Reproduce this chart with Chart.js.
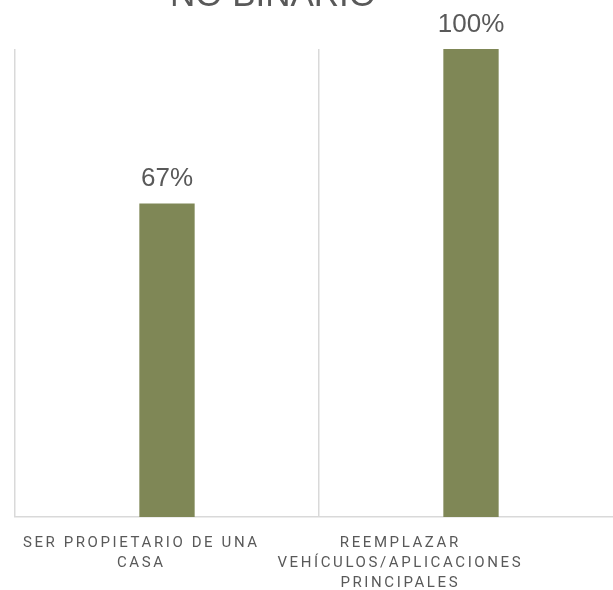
<!DOCTYPE html>
<html>
<head>
<meta charset="utf-8">
<script src="https://cdn.jsdelivr.net/npm/chart.js@4"></script>
<style>
  html, body { margin: 0; padding: 0; background: #fff; overflow: hidden; }
  #wrap { position: absolute; left: 0; top: 0; width: 625px; height: 590px; }
</style>
</head>
<body>
<div id="wrap"><canvas id="chart"></canvas></div>
<script>
// chart data
const categories = [
    ['SER PROPIETARIO DE UNA', 'CASA'],
    ['REEMPLAZAR', 'VEHÍCULOS/APLICACIONES', 'PRINCIPALES']
];
const values = [0.67, 1.0];
const valueLabels = ['67%', '100%'];
const chartTitle = 'NO BINARIO';

const TEXT = '#595959';
const BAR = '#7f8756';
const GRID = '#d9d9d9';

// labels sit a bit left of the bars in the original
const labelShift = [-27, -72];

const extrasPlugin = {
    id: 'extras',
    afterDatasetsDraw(chart) {
        const ctx = chart.ctx;
        const meta = chart.getDatasetMeta(0);
        ctx.save();
        ctx.fillStyle = TEXT;
        ctx.textAlign = 'center';
        ctx.textBaseline = 'alphabetic';
        ctx.font = '26px "Liberation Sans", Arial, sans-serif';
        meta.data.forEach((bar, i) => {
            ctx.fillText(valueLabels[i], bar.x, bar.y - 17);
        });
        ctx.restore();
    },
    afterDraw(chart) {
        const ctx = chart.ctx;
        const xScale = chart.scales.x;
        ctx.save();
        ctx.fillStyle = TEXT;
        ctx.textAlign = 'center';
        ctx.textBaseline = 'alphabetic';

        // title, mostly above the visible area
        ctx.font = '35px "Liberation Sans", Arial, sans-serif';
        ctx.fillText(chartTitle, 273, 6);

        // category labels with wide letter spacing
        ctx.font = '15px Roboto, "Liberation Sans", sans-serif';
        ctx.letterSpacing = '2.6px';
        categories.forEach((lines, i) => {
            const cx = xScale.getPixelForValue(i) + labelShift[i];
            lines.forEach((line, j) => {
                // trailing spacing offsets the centre, so nudge by half of it
                ctx.fillText(line, cx + 1.3, chart.chartArea.bottom + 30 + j * 20);
            });
        });
        ctx.restore();
    }
};

new Chart(document.getElementById('chart').getContext('2d'), {
    type: 'bar',
    data: {
        labels: categories.map(c => c.join(' ')),
        datasets: [{
            data: values,
            backgroundColor: BAR,
            borderWidth: 0,
            categoryPercentage: 0.2,
            barPercentage: 0.91
        }]
    },
    options: {
        responsive: true,
        maintainAspectRatio: false,
        animation: false,
        layout: {
            padding: { left: 15, right: 2, top: 49, bottom: 73 }
        },
        plugins: {
            legend: { display: false },
            title: { display: false },
            tooltip: { enabled: false }
        },
        scales: {
            x: {
                grid: { color: GRID, lineWidth: 1.5, drawTicks: false, offset: true },
                border: { color: GRID, width: 1.5 },
                ticks: { display: false }
            },
            y: {
                display: false,
                min: 0,
                max: 1
            }
        }
    },
    plugins: [extrasPlugin]
});
</script>
</body>
</html>
